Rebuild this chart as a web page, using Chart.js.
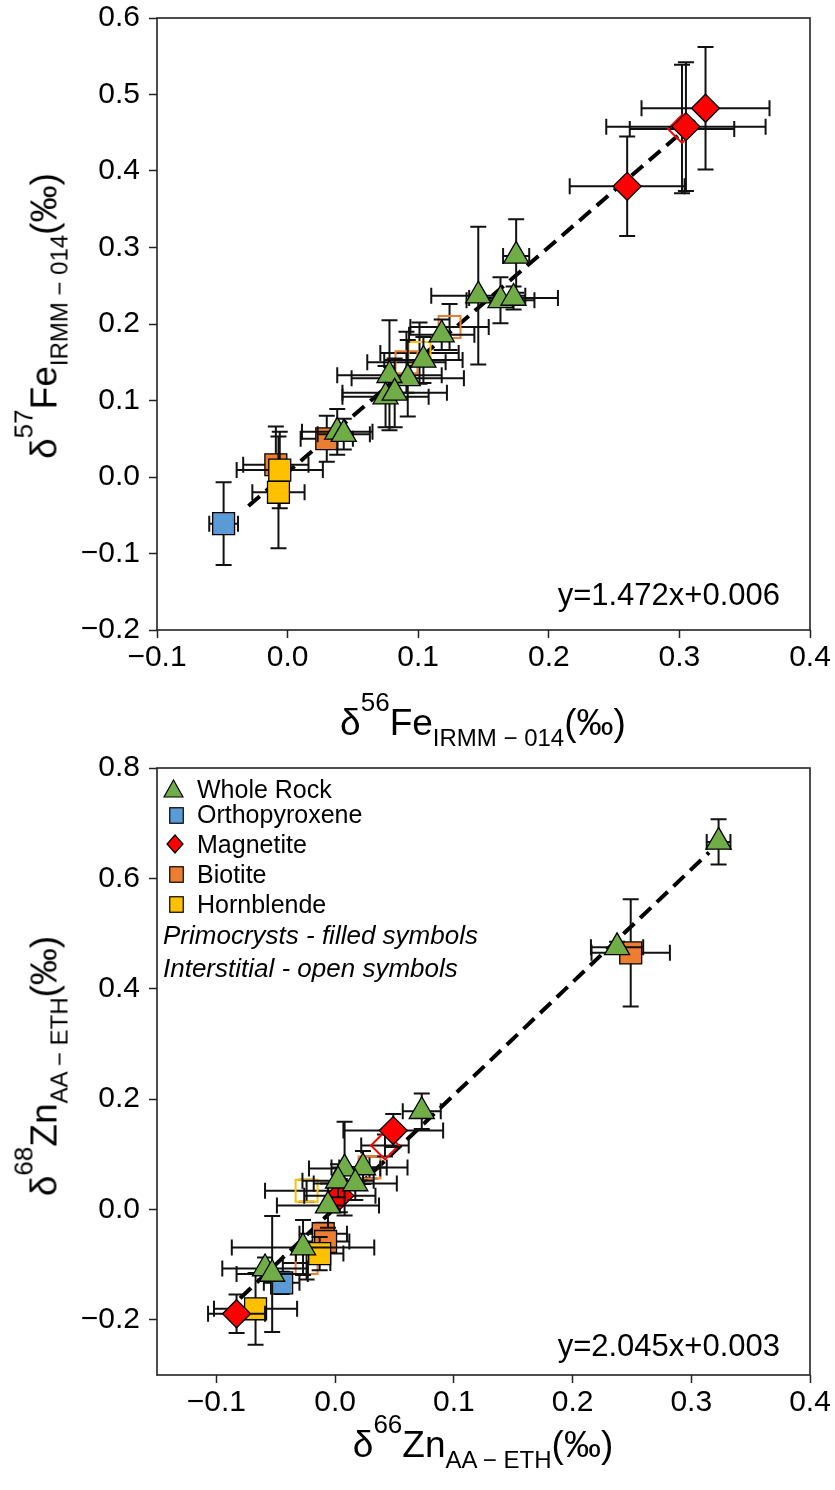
<!DOCTYPE html>
<html>
<head>
<meta charset="utf-8">
<title>δ57Fe vs δ56Fe, δ68Zn vs δ66Zn</title>
<script src="https://cdn.jsdelivr.net/npm/chart.js@4.4.1/dist/chart.umd.min.js"></script>
<style>
  body{margin:0;background:#fff}
  #page{position:relative;width:835px;height:1490px;overflow:hidden;font-family:"Liberation Sans",Arial,sans-serif;color:#000}
  canvas{position:absolute;left:0}
  #cFe{top:0}
  #cZn{top:700px}
  .t{position:absolute;white-space:nowrap}
  .ttl{font-size:37px;line-height:37px;transform:translate(-50%,-50%)}
  .ttl.rot{transform:translate(-50%,-50%) rotate(-90deg)}
  .sup{font-size:26px;line-height:0;position:relative;top:-24px}
  .sub{font-size:24px;line-height:0;position:relative;top:11px}
  .eq{font-size:31px;line-height:31px;right:55px}
  .leg{font-size:25px;line-height:25px;left:197px}
  .leg.it{font-style:italic;font-size:26px;line-height:26px;left:163px}
  .mk{position:absolute}
</style>
</head>
<body>
<div id="page">
  <canvas id="cFe" width="835" height="700"></canvas>
  <canvas id="cZn" width="835" height="790"></canvas>

  <div class="t ttl rot" style="left:44px;top:316px">δ<span class="sup">57</span>Fe<span class="sub">IRMM − 014</span>(‰)</div>
  <div class="t ttl" style="left:483px;top:722px">δ<span class="sup">56</span>Fe<span class="sub">IRMM − 014</span>(‰)</div>
  <div class="t eq" style="top:579px">y=1.472x+0.006</div>

  <div class="t ttl rot" style="left:44px;top:1066px">δ<span class="sup">68</span>Zn<span class="sub">AA − ETH</span>(‰)</div>
  <div class="t ttl" style="left:483px;top:1444px">δ<span class="sup">66</span>Zn<span class="sub">AA − ETH</span>(‰)</div>
  <div class="t eq" style="top:1330px">y=2.045x+0.003</div>

  <!-- leyenda -->
  <svg class="mk" style="left:163px;top:779px" width="21" height="19"><polygon points="10.5,1 20,18 1,18" fill="#70ad47" stroke="#000" stroke-width="1.2"/></svg>
  <svg class="mk" style="left:169px;top:807px" width="15" height="17"><rect x="0.75" y="0.75" width="13.5" height="15.5" fill="#5b9bd5" stroke="#000" stroke-width="1.2"/></svg>
  <svg class="mk" style="left:166px;top:834px" width="18" height="20"><polygon points="9,1 17,10 9,19 1,10" fill="#ff0000" stroke="#000" stroke-width="1.2"/></svg>
  <svg class="mk" style="left:169px;top:866px" width="15" height="17"><rect x="0.75" y="0.75" width="13.5" height="15.5" fill="#ed7d31" stroke="#000" stroke-width="1.2"/></svg>
  <svg class="mk" style="left:169px;top:896px" width="15" height="17"><rect x="0.75" y="0.75" width="13.5" height="15.5" fill="#ffc000" stroke="#000" stroke-width="1.2"/></svg>
  <div class="t leg" style="top:777px">Whole Rock</div>
  <div class="t leg" style="top:802px">Orthopyroxene</div>
  <div class="t leg" style="top:832px">Magnetite</div>
  <div class="t leg" style="top:862px">Biotite</div>
  <div class="t leg" style="top:892px">Hornblende</div>
  <div class="t leg it" style="top:922px">Primocrysts - filled symbols</div>
  <div class="t leg it" style="top:955px">Interstitial - open symbols</div>
</div>

<script>
// === DATOS: panel Fe ===
const feXTicks = [-0.1, 0.0, 0.1, 0.2, 0.3, 0.4];
const feYTicks = [-0.2, -0.1, 0.0, 0.1, 0.2, 0.3, 0.4, 0.5, 0.6];

const feWrX    = [0.175, 0.146, 0.163, 0.173, 0.118, 0.104, 0.092, 0.078, 0.075, 0.082, 0.038, 0.043];
const feWrY    = [0.289, 0.237, 0.231, 0.234, 0.186, 0.153, 0.129, 0.133, 0.105, 0.110, 0.059, 0.056];
const feWrXErr = [0.010, 0.036, 0.026, 0.034, 0.025, 0.030, 0.043, 0.040, 0.033, 0.040, 0.027, 0.020];
const feWrYErr = [0.048, 0.090, 0.030, 0.015, 0.020, 0.030, 0.050, 0.072, 0.040, 0.045, 0.030, 0.020];

const feOpxX = [-0.049], feOpxY = [-0.061], feOpxXErr = [0.011], feOpxYErr = [0.054];

const feMagX    = [0.320, 0.305, 0.260];
const feMagY    = [0.482, 0.458, 0.380];
const feMagXErr = [0.049, 0.061, 0.044];
const feMagYErr = [0.080, 0.084, 0.065];

const feBtX = [0.030, -0.009], feBtY = [0.050, 0.016], feBtXErr = [0.020, 0.025], feBtYErr = [0.030, 0.050];
const feHblX = [-0.006, -0.007], feHblY = [0.009, -0.020], feHblXErr = [0.033, 0.020], feHblYErr = [0.050, 0.073];

// intersticiales (símbolos abiertos)
const feMagOX = [0.302], feMagOY = [0.455], feMagOXErr = [0.040], feMagOYErr = [0.084];
const feBtOX = [0.124, 0.091], feBtOY = [0.196, 0.150], feBtOXErr = [0.030, 0.030], feBtOYErr = [0.030, 0.040];
const feHblOX = [0.101], feHblOY = [0.162], feHblOXErr = [0.030], feHblOYErr = [0.040];

// recta y=1.472x+0.006 (extremos)
const feFitX = [-0.030, 0.315];
const feFitY = [-0.038, 0.470];

// === DATOS: panel Zn ===
const znXTicks = [-0.1, 0.0, 0.1, 0.2, 0.3, 0.4];
const znYTicks = [-0.2, 0.0, 0.2, 0.4, 0.6, 0.8];

const znWrX    = [0.323, 0.2375, 0.073, 0.0235, 0.008, 0.0025, 0.017, -0.006, -0.027, -0.059, -0.053];
const znWrY    = [0.666, 0.475, 0.178, 0.076, 0.074, 0.052, 0.047, 0.007, -0.069, -0.107, -0.117];
const znWrXErr = [0.010, 0.022, 0.016, 0.020, 0.030, 0.030, 0.035, 0.043, 0.060, 0.036, 0.030];
const znWrYErr = [0.041, 0.010, 0.032, 0.030, 0.085, 0.030, 0.030, 0.040, 0.050, 0.020, 0.105];

const znOpxX = [-0.045], znOpxY = [-0.133], znOpxXErr = [0.015], znOpxYErr = [0.020];

const znMagX    = [0.049, 0.004, -0.083];
const znMagY    = [0.143, 0.025, -0.189];
const znMagXErr = [0.042, 0.030, 0.024];
const znMagYErr = [0.030, 0.030, 0.035];

const znBtX    = [0.249, -0.010, -0.008];
const znBtY    = [0.465, -0.044, -0.058];
const znBtXErr = [0.033, 0.020, 0.020];
const znBtYErr = [0.097, 0.020, 0.020];

const znHblX = [-0.013, -0.067], znHblY = [-0.080, -0.180], znHblXErr = [0.020, 0.035], znHblYErr = [0.030, 0.065];

const znMagOX = [0.042], znMagOY = [0.116], znMagOXErr = [0.020], znMagOYErr = [0.020];
const znBtOX = [0.029, -0.024], znBtOY = [0.076, -0.097], znBtOXErr = [0.032, 0.020], znBtOYErr = [0.020, 0.030];
const znHblOX = [-0.024], znHblOY = [0.034], znHblOXErr = [0.035], znHblOYErr = [0.020];

// recta y=2.045x+0.003 (extremos)
const znFitX = [-0.080, 0.315];
const znFitY = [-0.161, 0.647];

// === ESTILO ===
const FONT = '"Liberation Sans", Arial, sans-serif';
const GREEN = '#70ad47', BLUE = '#5b9bd5', RED = '#ff0000', ORANGE = '#ed7d31', YELLOW = '#ffc000';
const RADIUS = { triangle: 14.5, rect: 15.5, rectRot: 14 };

const fmt = (v) => (v < 0 ? '\u2212' : '') + Math.abs(v).toFixed(1);
const pts = (xs, ys) => xs.map((x, i) => ({ x, y: ys[i] }));

function filled(label, shape, color, xs, ys, xe, ye){
  return { label, data: pts(xs, ys), xErr: xe, yErr: ye, pointStyle: shape,
    pointRadius: RADIUS[shape], backgroundColor: color, borderColor: '#000', borderWidth: 1.3 };
}
function open(label, shape, color, xs, ys, xe, ye){
  return { label, data: pts(xs, ys), xErr: xe, yErr: ye, pointStyle: shape,
    pointRadius: RADIUS[shape], backgroundColor: 'rgba(0,0,0,0)', borderColor: color, borderWidth: 2 };
}
function fitLine(xs, ys){
  return { label: 'fit', data: pts(xs, ys), showLine: true, pointRadius: 0,
    borderColor: '#000', borderWidth: 4, borderDash: [15, 8], fill: false };
}

// barras de error, justo antes de cada serie
const errorBars = {
  id: 'errorBars',
  beforeDatasetDraw(chart, args){
    const ds = chart.data.datasets[args.index];
    if (!ds.xErr) return;
    const { ctx } = chart, sx = chart.scales.x, sy = chart.scales.y, cap = 8;
    ctx.save();
    ctx.strokeStyle = '#111';
    ctx.lineWidth = 2;
    ds.data.forEach((p, i) => {
      const px = sx.getPixelForValue(p.x), py = sy.getPixelForValue(p.y);
      const x0 = sx.getPixelForValue(p.x - ds.xErr[i]), x1 = sx.getPixelForValue(p.x + ds.xErr[i]);
      const y0 = sy.getPixelForValue(p.y - ds.yErr[i]), y1 = sy.getPixelForValue(p.y + ds.yErr[i]);
      ctx.beginPath();
      ctx.moveTo(x0, py); ctx.lineTo(x1, py);
      ctx.moveTo(px, y0); ctx.lineTo(px, y1);
      ctx.moveTo(x0, py - cap); ctx.lineTo(x0, py + cap);
      ctx.moveTo(x1, py - cap); ctx.lineTo(x1, py + cap);
      ctx.moveTo(px - cap, y0); ctx.lineTo(px + cap, y0);
      ctx.moveTo(px - cap, y1); ctx.lineTo(px + cap, y1);
      ctx.stroke();
    });
    ctx.restore();
  }
};

// marco completo
const frame = {
  id: 'frame',
  afterDatasetsDraw(chart){
    const { ctx, chartArea: a } = chart;
    ctx.save();
    ctx.strokeStyle = '#222';
    ctx.lineWidth = 1.6;
    ctx.strokeRect(a.left, a.top, a.right - a.left, a.bottom - a.top);
    ctx.restore();
  }
};

function axis(min, max, ticks, pad, fit){
  return {
    type: 'linear', min, max,
    afterBuildTicks: (s) => { s.ticks = ticks.map((value) => ({ value })); },
    afterFit: fit,
    ticks: { callback: fmt, font: { family: FONT, size: 30 }, color: '#000', padding: pad, autoSkip: false, maxRotation: 0 },
    grid: { drawOnChartArea: false, tickLength: 8, tickWidth: 1.5, tickColor: '#222' },
    border: { display: false }
  };
}

function options(xr, yr, xTicks, yTicks, padTop, padBottom){
  return {
    responsive: false, animation: false, events: [],
    layout: { padding: { left: 0, right: 25, top: padTop, bottom: padBottom } },
    plugins: { legend: { display: false }, tooltip: { enabled: false } },
    scales: {
      x: axis(xr[0], xr[1], xTicks, 2, (s) => { s.height = 70; s.paddingLeft = 0; s.paddingRight = 0; }),
      y: axis(yr[0], yr[1], yTicks, 9, (s) => { s.width = 157; s.paddingTop = 0; s.paddingBottom = 0; })
    }
  };
}

// === GRÁFICOS ===
new Chart(document.getElementById('cFe'), {
  type: 'scatter',
  data: { datasets: [
    filled('Whole Rock', 'triangle', GREEN, feWrX, feWrY, feWrXErr, feWrYErr),
    filled('Magnetite', 'rectRot', RED, feMagX, feMagY, feMagXErr, feMagYErr),
    filled('Hornblende', 'rect', YELLOW, feHblX, feHblY, feHblXErr, feHblYErr),
    filled('Biotite', 'rect', ORANGE, feBtX, feBtY, feBtXErr, feBtYErr),
    filled('Orthopyroxene', 'rect', BLUE, feOpxX, feOpxY, feOpxXErr, feOpxYErr),
    open('Magnetite (int.)', 'rectRot', RED, feMagOX, feMagOY, feMagOXErr, feMagOYErr),
    open('Biotite (int.)', 'rect', ORANGE, feBtOX, feBtOY, feBtOXErr, feBtOYErr),
    open('Hornblende (int.)', 'rect', YELLOW, feHblOX, feHblOY, feHblOXErr, feHblOYErr),
    fitLine(feFitX, feFitY)
  ]},
  options: options([-0.1, 0.4], [-0.2, 0.6], feXTicks, feYTicks, 18, 0),
  plugins: [errorBars, frame]
});

new Chart(document.getElementById('cZn'), {
  type: 'scatter',
  data: { datasets: [
    filled('Whole Rock', 'triangle', GREEN, znWrX, znWrY, znWrXErr, znWrYErr),
    filled('Magnetite', 'rectRot', RED, znMagX, znMagY, znMagXErr, znMagYErr),
    filled('Hornblende', 'rect', YELLOW, znHblX, znHblY, znHblXErr, znHblYErr),
    filled('Biotite', 'rect', ORANGE, znBtX, znBtY, znBtXErr, znBtYErr),
    filled('Orthopyroxene', 'rect', BLUE, znOpxX, znOpxY, znOpxXErr, znOpxYErr),
    open('Magnetite (int.)', 'rectRot', RED, znMagOX, znMagOY, znMagOXErr, znMagOYErr),
    open('Biotite (int.)', 'rect', ORANGE, znBtOX, znBtOY, znBtOXErr, znBtOYErr),
    open('Hornblende (int.)', 'rect', YELLOW, znHblOX, znHblOY, znHblOXErr, znHblOYErr),
    fitLine(znFitX, znFitY)
  ]},
  options: options([-0.15, 0.4], [-0.3, 0.8], znXTicks, znYTicks, 68, 45),
  plugins: [errorBars, frame]
});
</script>
</body>
</html>
